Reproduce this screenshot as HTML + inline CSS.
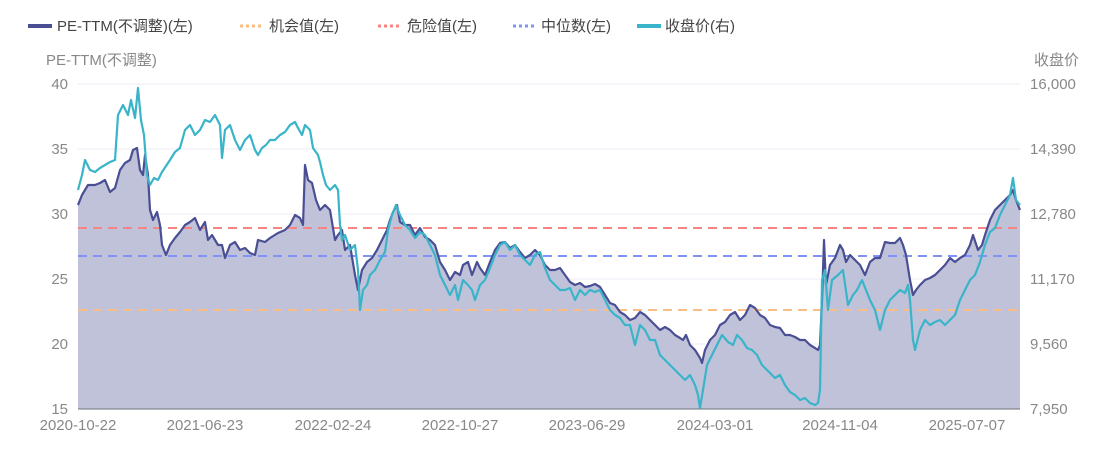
<!DOCTYPE html>
<html><head><meta charset="utf-8"><style>
body{margin:0;background:#fff;}
svg text{font-family:"Liberation Sans","Noto Sans CJK SC",sans-serif;}
</style></head><body>
<svg width="1109" height="454" viewBox="0 0 1109 454" xmlns="http://www.w3.org/2000/svg">
<g font-size="15" fill="#444">
<line x1="28" y1="26" x2="52" y2="26" stroke="#4a4f94" stroke-width="4"/>
<text x="57" y="31">PE-TTM(不调整)(左)</text>
<line x1="240" y1="26" x2="264" y2="26" stroke="#f9be86" stroke-width="3" stroke-dasharray="3,3"/>
<text x="269" y="31">机会值(左)</text>
<line x1="378" y1="26" x2="402" y2="26" stroke="#f98484" stroke-width="3" stroke-dasharray="3,3"/>
<text x="407" y="31">危险值(左)</text>
<line x1="513" y1="26" x2="537" y2="26" stroke="#8093f9" stroke-width="3" stroke-dasharray="3,3"/>
<text x="541" y="31">中位数(左)</text>
<line x1="637" y1="26" x2="661" y2="26" stroke="#3ab4c9" stroke-width="4"/>
<text x="665" y="31">收盘价(右)</text>
</g>
<g font-size="15" fill="#888">
<text x="46" y="65">PE-TTM(不调整)</text>
<text x="1034" y="65">收盘价</text>
<g text-anchor="end">
<text x="68" y="89">40</text><text x="68" y="154">35</text><text x="68" y="219">30</text>
<text x="68" y="284">25</text><text x="68" y="349">20</text><text x="68" y="414">15</text>
</g>
<g>
<text x="1030" y="89">16,000</text><text x="1030" y="154">14,390</text><text x="1030" y="219">12,780</text>
<text x="1030" y="284">11,170</text><text x="1030" y="349">9,560</text><text x="1030" y="414">7,950</text>
</g>
<g text-anchor="middle">
<text x="78" y="430">2020-10-22</text><text x="205" y="430">2021-06-23</text><text x="333" y="430">2022-02-24</text>
<text x="460" y="430">2022-10-27</text><text x="587" y="430">2023-06-29</text><text x="715" y="430">2024-03-01</text>
<text x="840" y="430">2024-11-04</text><text x="967" y="430">2025-07-07</text>
</g>
</g>
<g stroke="#eeeef4" stroke-width="1">
<line x1="78" y1="84" x2="1020" y2="84"/><line x1="78" y1="149" x2="1020" y2="149"/>
<line x1="78" y1="214" x2="1020" y2="214"/><line x1="78" y1="279" x2="1020" y2="279"/>
<line x1="78" y1="344" x2="1020" y2="344"/>
</g>
<polygon fill="#bfc2d9" points="78,409 78,205 82,195 88,185 95,185 100,183 105,180 110,192 115,188 120,170 125,163 130,160 133,150 137,148 140,170 143,175 145,155 148,175 150,210 153,220 157,212 160,225 162,245 166,255 170,245 175,238 180,232 185,225 190,222 195,218 200,230 205,222 208,240 212,235 218,245 222,245 225,258 230,245 235,242 240,250 245,248 250,253 255,255 258,240 265,242 270,238 278,233 285,230 290,225 295,215 300,218 303,225 305,165 308,180 312,183 316,200 320,210 325,205 330,210 335,240 338,235 342,230 345,250 350,245 355,275 358,290 362,270 367,262 372,258 377,250 382,240 387,230 390,220 393,212 397,205 400,222 405,225 410,225 415,235 420,228 425,237 430,240 435,245 440,262 445,270 450,280 455,272 460,275 463,265 468,262 472,275 477,262 480,268 485,275 490,262 495,250 500,243 505,242 510,248 515,245 520,252 525,258 530,255 535,250 540,255 545,265 550,270 555,270 560,268 565,275 570,282 575,285 580,283 585,287 590,286 595,284 600,287 605,295 610,303 615,305 620,312 625,315 630,320 635,318 640,312 645,315 650,320 655,325 660,330 665,327 670,330 675,335 680,338 683,340 686,335 690,345 695,350 700,358 702,363 705,350 710,340 715,335 720,325 725,322 730,315 735,312 740,320 745,315 750,305 755,308 760,315 765,318 770,325 775,327 780,328 785,335 790,335 795,337 800,340 805,340 810,345 815,348 818,350 820,345 822,300 824,240 826,285 830,265 835,258 840,245 843,250 846,262 850,255 855,260 860,265 865,275 870,262 875,258 880,258 885,242 890,243 895,243 900,238 903,245 906,255 910,280 913,295 916,290 920,285 925,280 930,278 935,275 940,270 945,265 950,258 955,262 960,258 965,255 970,245 973,235 978,250 982,245 985,235 990,220 995,210 1000,205 1005,200 1010,195 1013,190 1016,200 1020,210 1020,409"/>
<line x1="78" y1="409" x2="1020" y2="409" stroke="#6e7079" stroke-width="1"/>
<g stroke-width="2" stroke-dasharray="9,6">
<line x1="78" y1="228" x2="1020" y2="228" stroke="#f98484"/>
<line x1="78" y1="256" x2="1020" y2="256" stroke="#8093f9"/>
<line x1="78" y1="310" x2="1020" y2="310" stroke="#f9be86"/>
</g>
<polyline fill="none" stroke="#4a4f94" stroke-width="2.2" stroke-linejoin="round" points="78,205 82,195 88,185 95,185 100,183 105,180 110,192 115,188 120,170 125,163 130,160 133,150 137,148 140,170 143,175 145,155 148,175 150,210 153,220 157,212 160,225 162,245 166,255 170,245 175,238 180,232 185,225 190,222 195,218 200,230 205,222 208,240 212,235 218,245 222,245 225,258 230,245 235,242 240,250 245,248 250,253 255,255 258,240 265,242 270,238 278,233 285,230 290,225 295,215 300,218 303,225 305,165 308,180 312,183 316,200 320,210 325,205 330,210 335,240 338,235 342,230 345,250 350,245 355,275 358,290 362,270 367,262 372,258 377,250 382,240 387,230 390,220 393,212 397,205 400,222 405,225 410,225 415,235 420,228 425,237 430,240 435,245 440,262 445,270 450,280 455,272 460,275 463,265 468,262 472,275 477,262 480,268 485,275 490,262 495,250 500,243 505,242 510,248 515,245 520,252 525,258 530,255 535,250 540,255 545,265 550,270 555,270 560,268 565,275 570,282 575,285 580,283 585,287 590,286 595,284 600,287 605,295 610,303 615,305 620,312 625,315 630,320 635,318 640,312 645,315 650,320 655,325 660,330 665,327 670,330 675,335 680,338 683,340 686,335 690,345 695,350 700,358 702,363 705,350 710,340 715,335 720,325 725,322 730,315 735,312 740,320 745,315 750,305 755,308 760,315 765,318 770,325 775,327 780,328 785,335 790,335 795,337 800,340 805,340 810,345 815,348 818,350 820,345 822,300 824,240 826,285 830,265 835,258 840,245 843,250 846,262 850,255 855,260 860,265 865,275 870,262 875,258 880,258 885,242 890,243 895,243 900,238 903,245 906,255 910,280 913,295 916,290 920,285 925,280 930,278 935,275 940,270 945,265 950,258 955,262 960,258 965,255 970,245 973,235 978,250 982,245 985,235 990,220 995,210 1000,205 1005,200 1010,195 1013,190 1016,200 1020,210"/>
<polyline fill="none" stroke="#3ab4c9" stroke-width="2.2" stroke-linejoin="round" points="78,190 82,175 85,160 90,170 95,172 100,168 105,165 110,162 115,160 118,115 123,105 128,115 131,100 135,118 138,88 141,120 144,135 147,175 150,185 154,178 158,180 162,172 166,166 170,160 175,152 180,148 185,130 190,125 195,135 200,130 205,120 210,122 215,115 220,125 222,158 225,130 230,125 235,140 240,150 245,140 250,135 255,150 258,155 262,148 266,145 270,140 275,140 280,135 285,132 290,125 295,122 298,128 302,135 305,125 310,130 313,148 318,155 320,162 323,175 326,185 330,190 335,185 338,190 340,225 342,240 345,235 350,250 355,245 358,270 360,310 363,290 367,285 370,275 375,270 380,260 385,252 388,230 392,215 396,205 400,215 405,225 410,230 415,238 420,232 425,235 430,245 435,255 440,275 445,285 450,295 455,285 458,300 463,280 468,285 472,290 475,300 480,285 485,280 490,268 495,255 500,245 505,242 510,250 515,245 520,255 525,260 530,265 535,255 540,252 545,268 550,280 555,285 560,290 565,290 570,288 575,300 580,290 585,295 590,290 595,292 600,290 605,300 610,310 615,315 620,318 625,325 630,325 635,345 640,325 645,330 650,340 655,340 660,355 665,360 670,365 675,370 680,375 685,380 690,375 695,385 698,395 700,408 703,390 707,365 712,355 717,345 722,335 728,342 733,345 737,335 742,340 747,348 752,350 757,355 762,365 767,370 772,375 775,378 780,375 785,385 790,392 795,395 800,400 805,398 810,403 815,405 818,403 820,390 822,280 825,270 828,310 832,280 838,275 843,270 848,305 853,295 857,290 862,280 866,290 870,300 875,310 880,330 885,310 890,300 895,295 900,290 905,293 908,285 910,300 913,340 915,350 920,330 925,320 930,325 935,322 940,320 945,325 950,320 955,315 960,300 965,290 970,280 975,275 980,262 985,245 990,232 995,228 1000,215 1005,205 1010,195 1013,178 1016,200 1020,205"/>
</svg>
</body></html>
